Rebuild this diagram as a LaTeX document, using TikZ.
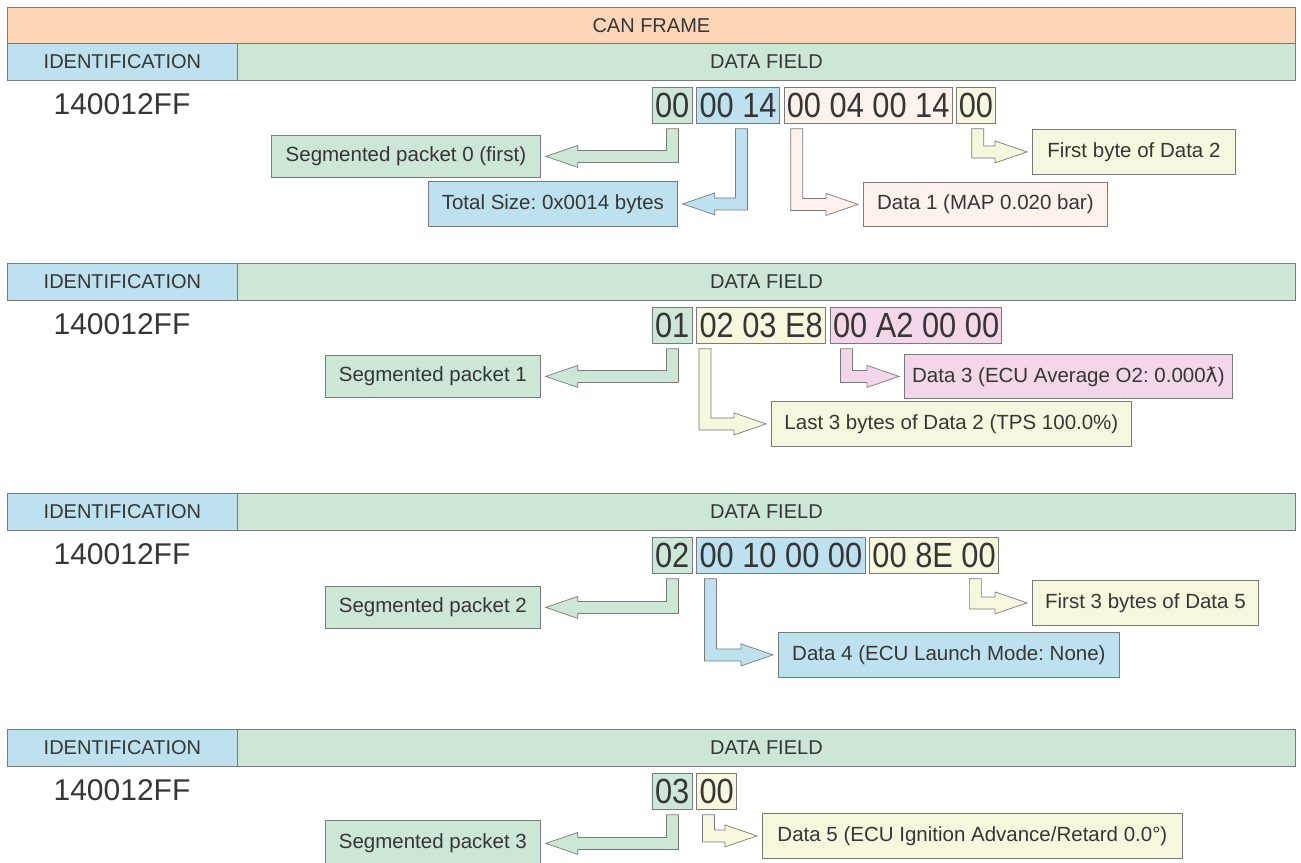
\documentclass[tikz,border=0pt]{standalone}
\usepackage{fontspec}
\setmainfont{Liberation Sans}
\newfontfamily\bytefont[FakeStretch=0.88]{Liberation Sans}
\newfontfamily\dejavu{DejaVu Sans}
\usetikzlibrary{positioning,calc}
\frenchspacing
\definecolor{canpeach}{HTML}{FDD5B7}
\definecolor{idblue}{HTML}{BEE1EF}
\definecolor{fieldgreen}{HTML}{CDE7D6}
\definecolor{byteyellow}{HTML}{F7F7DE}
\definecolor{bytepeach}{HTML}{FDF1EB}
\definecolor{bytepink}{HTML}{F4D6E9}
\definecolor{edgegray}{HTML}{7A7A7A}
\definecolor{textgray}{HTML}{363636}
\tikzstyle{headbox} = [draw=edgegray,line width=0.8pt,anchor=north west,minimum height=37pt,inner sep=0pt,text=textgray,font=\fontsize{20}{24}\selectfont]
\tikzstyle{idtext} = [text=textgray,font=\fontsize{30}{34}\selectfont]
\tikzstyle{bytebox} = [draw=edgegray,line width=0.8pt,anchor=north west,minimum height=36pt,inner xsep=2.7pt,inner ysep=0pt,text=textgray,font=\bytefont\fontsize{35}{38}\selectfont]
\tikzstyle{labelbox} = [draw=edgegray,line width=0.8pt,anchor=north west,minimum height=44pt,inner sep=0pt,text=textgray,font=\fontsize{20.5}{24}\selectfont]
\tikzstyle{fatarrow} = [draw=edgegray,line width=0.7pt,line join=miter]
\newcommand{\bentleft}[4]{%
\draw[fatarrow,fill=#1] let \p1=(#2.south west), \p2=(#4.east) in
 (\x1+#3pt-6pt,\y1-5pt) -- (\x1+#3pt+6pt,\y1-5pt) -- (\x1+#3pt+6pt,\y2-6pt) -- (\x2+37pt,\y2-6pt) -- (\x2+37pt,\y2-11pt) -- (\x2+5pt,\y2) -- (\x2+37pt,\y2+11pt) -- (\x2+37pt,\y2+6pt) -- (\x1+#3pt-6pt,\y2+6pt) -- cycle;}
\newcommand{\bentright}[4]{%
\draw[fatarrow,fill=#1] let \p1=(#2.south west), \p2=(#4.west) in
 (\x1+#3pt-6pt,\y1-5pt) -- (\x1+#3pt+6pt,\y1-5pt) -- (\x1+#3pt+6pt,\y2+6pt) -- (\x2-37pt,\y2+6pt) -- (\x2-37pt,\y2+11pt) -- (\x2-5pt,\y2) -- (\x2-37pt,\y2-11pt) -- (\x2-37pt,\y2-6pt) -- (\x1+#3pt-6pt,\y2-6pt) -- cycle;}

\begin{document}
\begin{tikzpicture}[x=1pt,y=-1pt]
\useasboundingbox (0,0) rectangle (1301,862);

\node[headbox,fill=canpeach,minimum width=1288pt] (frame) at (7,7) {CAN FRAME};
\foreach \k/\y in {0/43,1/263,2/493,3/729}{
	\node[headbox,fill=idblue,minimum width=230pt] (id\k) at (7,\y) {IDENTIFICATION};
	\node[headbox,fill=fieldgreen,minimum width=1058pt] (df\k) at (237,\y) {DATA FIELD};
	\node[idtext] (pgn\k) at (122,\y+61) {140012FF};
}

% packet 0
\node[bytebox,fill=fieldgreen] (p0b0) at (652,87) {00};
\node[bytebox,fill=idblue,right=4pt of p0b0] (p0b1) {00 14};
\node[bytebox,fill=bytepeach,right=4pt of p0b1] (p0b2) {00 04 00 14};
\node[bytebox,fill=byteyellow,right=3pt of p0b2] (p0b3) {00};
\node[labelbox,fill=fieldgreen,minimum width=269pt,minimum height=42pt] (seg0) at (271,135) {Segmented packet 0 (first)};
\node[labelbox,fill=idblue,minimum width=249pt,minimum height=45pt] (size0) at (428,181) {Total Size: 0x0014 bytes};
\node[labelbox,fill=byteyellow,minimum width=203pt,minimum height=45pt] (data2a) at (1032,129) {First byte of Data 2};
\node[labelbox,fill=bytepeach,minimum width=244pt] (data1) at (863,182) {Data 1 (MAP 0.020 bar)};
\bentleft{fieldgreen}{p0b0}{20.5}{seg0}
\bentleft{idblue}{p0b1}{45}{size0}
\bentright{bytepeach}{p0b2}{13}{data1}
\bentright{byteyellow}{p0b3}{22}{data2a}

% packet 1
\node[bytebox,fill=fieldgreen] (p1b0) at (652,307) {01};
\node[bytebox,fill=byteyellow,right=4pt of p1b0] (p1b1) {02 03 E8};
\node[bytebox,fill=bytepink,right=4pt of p1b1] (p1b2) {00 A2 00 00};
\node[labelbox,fill=fieldgreen,minimum width=215pt,minimum height=42pt] (seg1) at (325,355) {Segmented packet 1};
\node[labelbox,fill=bytepink,minimum width=328pt] (data3) at (904,354) {Data 3 (ECU Average O2: 0.000{\dejavu ƛ})};
\node[labelbox,fill=byteyellow,minimum width=360pt,minimum height=45pt] (data2b) at (771,401) {Last 3 bytes of Data 2 (TPS 100.0\%)};
\bentleft{fieldgreen}{p1b0}{20.5}{seg1}
\bentright{byteyellow}{p1b1}{8.5}{data2b}
\bentright{bytepink}{p1b2}{16.5}{data3}

% packet 2
\node[bytebox,fill=fieldgreen] (p2b0) at (652,537) {02};
\node[bytebox,fill=idblue,right=4pt of p2b0] (p2b1) {00 10 00 00};
\node[bytebox,fill=byteyellow,right=4pt of p2b1] (p2b2) {00 8E 00};
\node[labelbox,fill=fieldgreen,minimum width=215pt,minimum height=42pt] (seg2) at (325,586) {Segmented packet 2};
\node[labelbox,fill=byteyellow,minimum width=226pt,minimum height=45pt] (data5a) at (1032,580) {First 3 bytes of Data 5};
\node[labelbox,fill=idblue,minimum width=341pt,minimum height=45pt] (data4) at (778,632) {Data 4 (ECU Launch Mode: None)};
\bentleft{fieldgreen}{p2b0}{20.5}{seg2}
\bentright{idblue}{p2b1}{14}{data4}
\bentright{byteyellow}{p2b2}{106}{data5a}

% packet 3
\node[bytebox,fill=fieldgreen] (p3b0) at (652,773) {03};
\node[bytebox,fill=byteyellow,right=4pt of p3b0] (p3b1) {00};
\node[labelbox,fill=fieldgreen,minimum width=215pt,minimum height=46pt] (seg3) at (325,820) {Segmented packet 3};
\node[labelbox,fill=byteyellow,minimum width=420pt,minimum height=45pt] (data5b) at (762,813) {Data 5 (ECU Ignition Advance/Retard 0.0°)};
\bentleft{fieldgreen}{p3b0}{20.5}{seg3}
\bentright{byteyellow}{p3b1}{12}{data5b}
\end{tikzpicture}
\end{document}
